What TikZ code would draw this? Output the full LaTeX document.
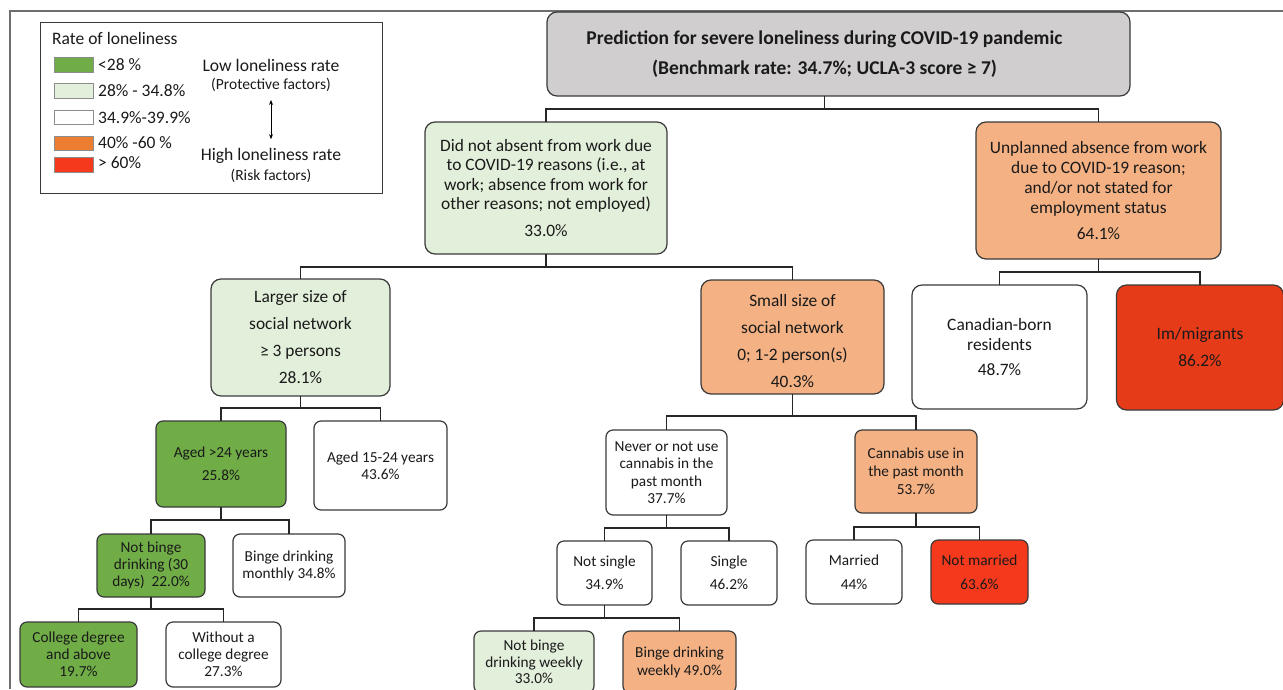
\documentclass[tikz,border=0pt]{standalone}
\usepackage{fontspec}
\setmainfont{Carlito}
\usetikzlibrary{arrows.meta}
\definecolor{boxline}{HTML}{3A3A3A}
\definecolor{framegray}{HTML}{6E6E6E}
\definecolor{topgray}{HTML}{D0CECE}
\definecolor{lgreen}{HTML}{E2EFDA}
\definecolor{dgreen}{HTML}{70AD47}
\definecolor{lorange}{HTML}{F4B183}
\definecolor{dorange}{HTML}{ED7D31}
\definecolor{redA}{HTML}{E63B19}
\definecolor{redB}{HTML}{F4391C}
\definecolor{txt}{HTML}{1A1A1A}
\begin{document}
\begin{tikzpicture}[x=1pt,y=-1pt,
  box/.style={draw=boxline, line width=1.2pt, rounded corners=10pt, align=center,
    inner sep=0pt, outer sep=0pt, text=txt},
  sbox/.style={box, rounded corners=7pt},
  f15/.style={font=\fontsize{17.4}{#1}\selectfont},
  f13/.style={font=\fontsize{15.3}{#1}\selectfont},
  conn/.style={draw=black!85, line width=1.1pt},
  swatch/.style={draw=black!45, line width=0.8pt, minimum width=39pt, minimum height=15pt, inner sep=0pt},
  legtxt/.style={anchor=west, inner sep=0pt, text=txt, font=\fontsize{17.5}{19}\selectfont},
  legbig/.style={inner sep=0pt, text=txt, font=\fontsize{17.6}{19}\selectfont},
  legsmall/.style={inner sep=0pt, text=txt, font=\fontsize{15.5}{17}\selectfont}
]
\useasboundingbox (0,0) rectangle (1283,689);
% outer frame
\draw[framegray, line width=1.5pt] (10,689) -- (10,11) -- (1283,11);

% legend
\node[draw=boxline, line width=1pt, minimum width=342pt, minimum height=171pt, inner sep=0pt] (legend) at (211,107.5) {};
\node[legtxt] (legtitle) at (52,38) {Rate of loneliness};
\node[swatch, fill=dgreen] (sw1) at (73.5,65) {};
\node[swatch, fill=lgreen] (sw2) at (73.5,91) {};
\node[swatch, fill=white, minimum height=14pt] (sw3) at (73.5,117) {};
\node[swatch, fill=dorange, minimum height=14pt] (sw4) at (73.5,143) {};
\node[swatch, fill=redB] (sw5) at (73.5,164.5) {};
\node[legtxt] (l1) at (98,65) {<28 \%};
\node[legtxt] (l2) at (98,91) {28\% - 34.8\%};
\node[legtxt] (l3) at (98,118) {34.9\%-39.9\%};
\node[legtxt] (l4) at (98,143) {40\% -60 \%};
\node[legtxt] (l5) at (98,163) {> 60\%};
\node[legbig] (low) at (271,65) {Low loneliness rate};
\node[legsmall] (prot) at (271,85) {(Protective factors)};
\node[legbig] (high) at (271,156) {High loneliness rate};
\node[legsmall] (risk) at (271,176) {(Risk factors)};
\draw[{Stealth[length=5pt,width=4pt]}-{Stealth[length=5pt,width=4pt]}, line width=0.9pt, black]
  ([yshift=-8pt]prot.south) -- ([yshift=9pt]high.north);

% tree nodes
\node[box, fill=topgray, minimum width=583pt, minimum height=84pt,
  font=\bfseries\fontsize{19.5}{30}\selectfont] (top) at (838.5,54)
  {Prediction for severe loneliness during COVID-19 pandemic\hspace*{28pt}\\(Benchmark rate: 34.7\%; UCLA-3 score ≥ 7)\hspace*{28pt}};
\coordinate (topdrop) at ([xshift=-14pt]top.south);

\node[box, fill=lgreen, minimum width=242pt, minimum height=132pt, f15=19.3] (didnot) at (546,188)
  {Did not absent from work due\\to COVID-19 reasons (i.e., at\\work; absence from work for\\other reasons; not employed)\\[7.5pt]33.0\%};
\node[box, fill=lorange, minimum width=245pt, minimum height=137pt, f15=20] (unpl) at (1098.5,190.5)
  {Unplanned absence from work\\due to COVID-19 reason;\\and/or not stated for\\employment status\\[6pt]64.1\%};

\node[box, fill=lgreen, minimum width=179pt, minimum height=117pt, f15=27] (larger) at (300.5,337.5)
  {Larger size of\\social network\\≥ 3 persons\\28.1\%};
\node[box, fill=lorange, minimum width=183pt, minimum height=114pt, f15=27] (small) at (792.5,337)
  {\rule{0pt}{21pt}Small size of\\social network\\0; 1-2 person(s)\\40.3\%};
\node[box, fill=white, minimum width=175pt, minimum height=124pt, f15=20] (canad) at (999.5,347)
  {Canadian-born\\residents\\[5pt]48.7\%};
\node[box, fill=redA, minimum width=167pt, minimum height=125pt, f15=20] (immig) at (1200,347.5)
  {Im/migrants\\[7pt]86.2\%};

\node[sbox, fill=dgreen, minimum width=130pt, minimum height=86pt, f13=23] (aged24) at (221,464)
  {Aged >24 years\\25.8\%};
\node[sbox, fill=white, minimum width=133pt, minimum height=89pt, f13=17] (aged15) at (380.5,465.5)
  {Aged 15-24 years\\43.6\%};
\node[sbox, fill=dgreen, minimum width=108pt, minimum height=63pt, f13=17] (notbinge) at (151,565.5)
  {Not binge\\drinking (30\\days)\ \ 22.0\%};
\node[sbox, fill=white, minimum width=112pt, minimum height=63pt, f13=17] (bingem) at (289,565.5)
  {Binge drinking\\monthly 34.8\%};
\node[sbox, fill=dgreen, minimum width=117pt, minimum height=65pt, f13=17] (college) at (78.5,654.5)
  {College degree\\and above\\19.7\%};
\node[sbox, fill=white, minimum width=115pt, minimum height=65pt, f13=17] (without) at (223.5,654.5)
  {Without a\\college degree\\27.3\%};

\node[sbox, fill=white, minimum width=121pt, minimum height=85pt, f13=17.3] (never) at (666.5,472.5)
  {Never or not use\\cannabis in the\\past month\\37.7\%};
\node[sbox, fill=lorange, minimum width=122pt, minimum height=83pt, f13=18] (cannab) at (916,471.5)
  {Cannabis use in\\the past month\\53.7\%};
\node[sbox, fill=white, minimum width=95pt, minimum height=64pt, f13=23] (notsingle) at (604.5,573)
  {Not single\\34.9\%};
\node[sbox, fill=white, minimum width=96pt, minimum height=64pt, f13=23] (single) at (729,573)
  {Single\\46.2\%};
\node[sbox, fill=white, minimum width=96pt, minimum height=64pt, f13=24] (married) at (854,572)
  {Married\\44\%};
\node[sbox, fill=redB, minimum width=97pt, minimum height=64pt, f13=24] (notmarried) at (979.5,572)
  {Not married\\63.6\%};
\node[sbox, fill=lgreen, minimum width=120pt, minimum height=62pt, f13=16.5] (nbw) at (534,662)
  {Not binge\\drinking weekly\\33.0\%};
\node[sbox, fill=lorange, minimum width=113pt, minimum height=62pt, f13=18] (bw) at (679.5,662)
  {Binge drinking\\weekly 49.0\%};

% connectors
\draw[conn] (topdrop) -- ++(0,13) -| (didnot.north);
\draw[conn] (topdrop) -- ++(0,13) -| (unpl.north);
\draw[conn] (didnot.south) -- ++(0,13) -| (larger.north);
\draw[conn] (didnot.south) -- ++(0,13) -| (small.north);
\draw[conn] (unpl.south) -- ++(0,13) -| (canad.north);
\draw[conn] (unpl.south) -- ++(0,13) -| (immig.north);
\draw[conn] (larger.south) -- ++(0,12) -| (aged24.north);
\draw[conn] (larger.south) -- ++(0,12) -| (aged15.north);
\draw[conn] (aged24.south) -- ++(0,13) -| (notbinge.north);
\draw[conn] (aged24.south) -- ++(0,13) -| (bingem.north);
\draw[conn] (notbinge.south) -- ++(0,12) -| (college.north);
\draw[conn] (notbinge.south) -- ++(0,12) -| (without.north);
\draw[conn] (small.south) -- ++(0,22) -| (never.north);
\draw[conn] (small.south) -- ++(0,22) -| (cannab.north);
\draw[conn] (never.south) -- ++(0,13) -| (notsingle.north);
\draw[conn] (never.south) -- ++(0,13) -| (single.north);
\draw[conn] (cannab.south) -- ++(0,14) -| (married.north);
\draw[conn] (cannab.south) -- ++(0,14) -| (notmarried.north);
\draw[conn] (notsingle.south) -- ++(0,13) -| (nbw.north);
\draw[conn] (notsingle.south) -- ++(0,13) -| (bw.north);
\end{tikzpicture}
\end{document}
